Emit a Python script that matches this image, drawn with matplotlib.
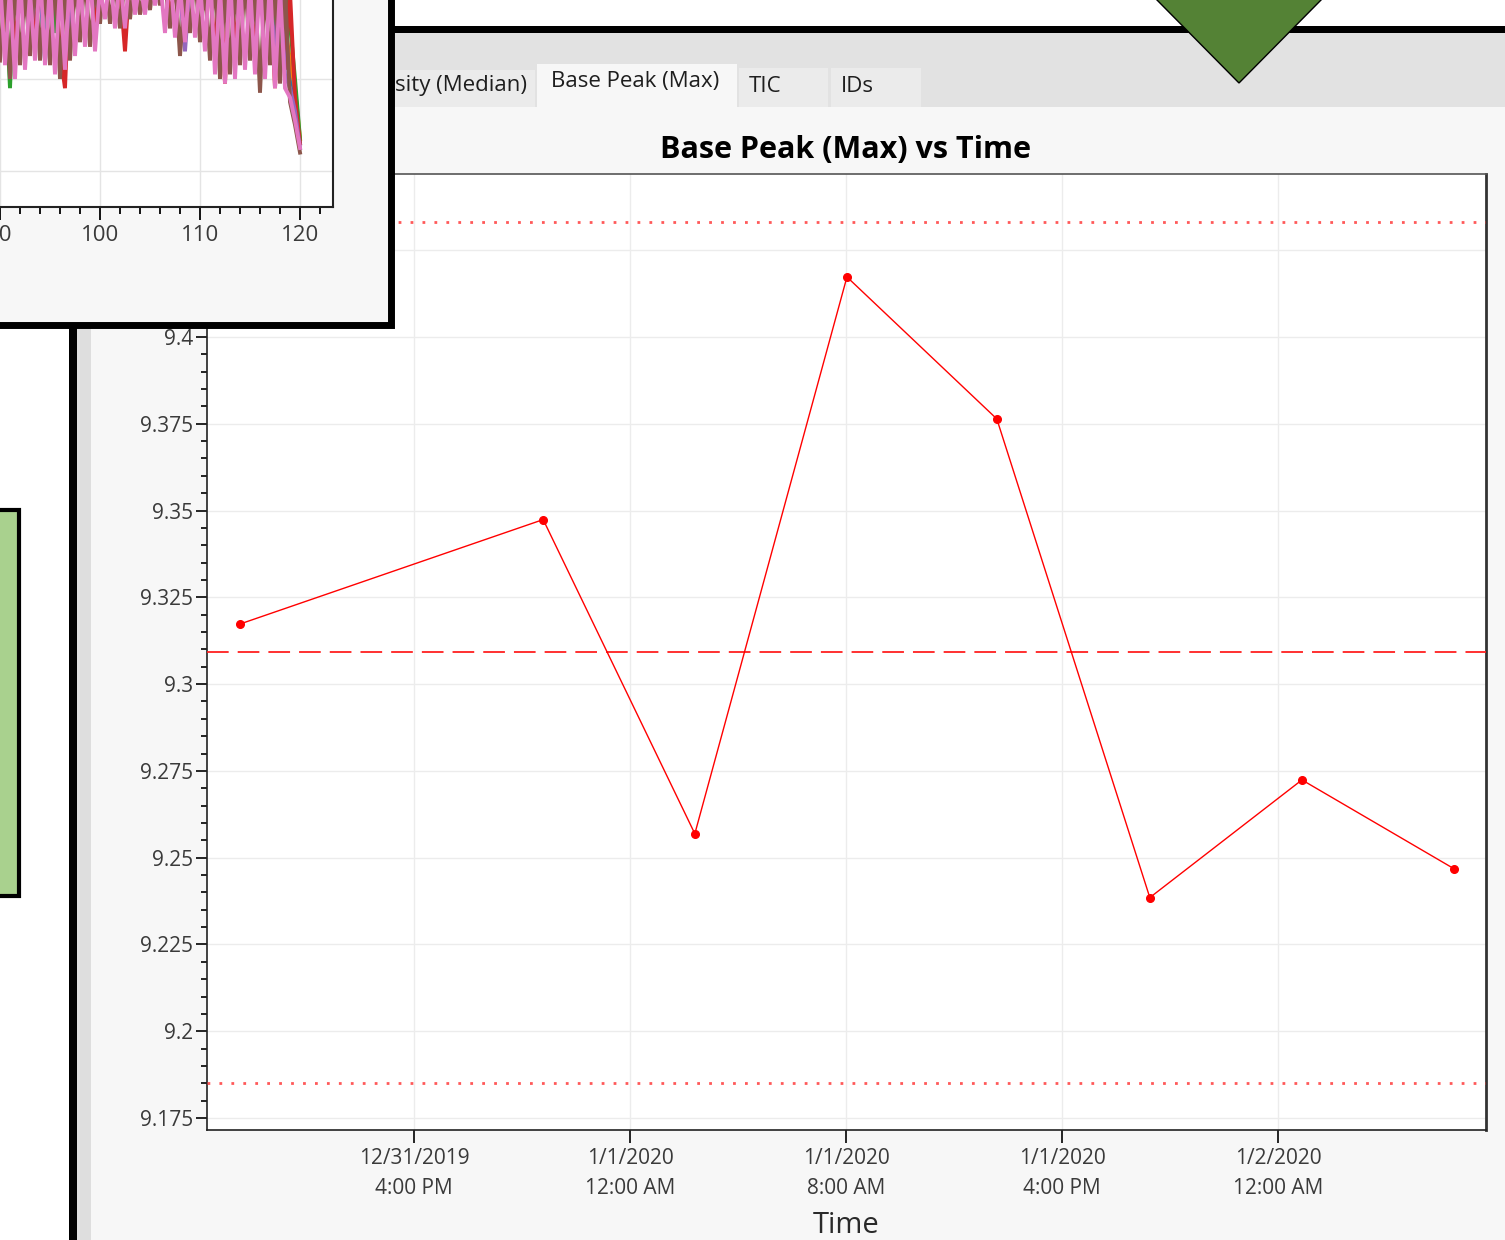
#!/usr/bin/env python3
import numpy as np
import matplotlib
matplotlib.use("Agg")
import matplotlib.pyplot as plt
import matplotlib.dates as mdates
from matplotlib.patches import Rectangle, Polygon
from matplotlib.ticker import MultipleLocator, FuncFormatter
from datetime import datetime

plt.rcParams['font.family'] = ['Open Sans', 'DejaVu Sans']

# Base peak (max) per run
run_times = ["2019-12-31 09:33", "2019-12-31 20:47", "2020-01-01 02:24", "2020-01-01 08:02",
             "2020-01-01 13:35", "2020-01-01 19:15", "2020-01-02 00:53", "2020-01-02 06:31"]
base_peak = [9.3173, 9.3474, 9.2569, 9.4173, 9.3764, 9.2385, 9.2724, 9.2468]

tab_labels = ["Intensity (Median)", "Base Peak (Max)", "TIC", "IDs"]

# Traces in the small chart behind, x = 90 .. 120 in steps of 0.5
trace_x = np.arange(90, 120.01, 0.5)
trace_blue = [83, 81, 84, 80, 82, 83, 81, 84, 80, 64, 82, 83, 81, 84, 80, 82, 83, 81, 84, 80,
              82, 83, 81, 84, 80, 82, 83, 81, 84, 80, 82, 83, 81, 84, 80, 82, 83, 81, 84, 80,
              82, 83, 81, 84, 80, 82, 83, 75, 84, 80, 82, 83, 81, 84, 80, 69, 68, 70, 62, 56, 46]
trace_orange = [82, 66, 84, 81, 83, 80, 82, 84, 81, 83, 80, 75, 76, 83, 81, 84, 80, 82, 83, 81,
                84, 80, 82, 83, 81, 84, 80, 82, 83, 81, 84, 80, 82, 83, 81, 84, 80, 82, 83, 81,
                84, 80, 82, 83, 81, 84, 80, 82, 83, 81, 84, 80, 82, 83, 81, 74, 70, 72, 64, 58, 47]
trace_green = [83, 80, 58, 84, 81, 79, 82, 80, 83, 81, 84, 70, 82, 80, 83, 81, 79, 84, 82, 80,
               83, 81, 84, 80, 82, 83, 80, 84, 81, 83, 80, 82, 84, 81, 83, 80, 79, 82, 84, 81,
               83, 80, 82, 84, 81, 83, 80, 82, 84, 81, 83, 80, 82, 84, 81, 71, 69, 80, 72, 60, 47]
trace_red = [80, 78, 84, 66, 81, 79, 83, 70, 80, 82, 78, 83, 66, 58, 84, 79, 82, 80, 83, 70,
             84, 81, 79, 83, 80, 66, 83, 82, 78, 84, 81, 83, 79, 82, 74, 80, 83, 72, 81, 79,
             83, 75, 80, 66, 82, 59, 84, 66, 80, 82, 79, 66, 83, 78, 81, 58, 80, 62, 79, 56, 46]
trace_purple = [81, 84, 79, 82, 80, 83, 66, 81, 84, 80, 82, 79, 83, 81, 68, 84, 80, 82, 79, 83,
                81, 84, 80, 82, 79, 83, 81, 84, 80, 82, 79, 83, 81, 84, 80, 82, 79, 66, 81, 84,
                80, 82, 79, 83, 81, 84, 80, 82, 79, 83, 81, 84, 80, 82, 79, 66, 81, 61, 58, 53, 45]
trace_brown = [64, 81, 60, 82, 63, 80, 65, 83, 64, 81, 63, 84, 60, 80, 64, 82, 68, 83, 67, 80,
               72, 84, 72, 81, 71, 82, 73, 83, 74, 80, 75, 84, 76, 81, 71, 82, 65, 80, 70, 83,
               68, 81, 64, 84, 60, 80, 61, 82, 63, 83, 64, 80, 57, 81, 63, 82, 59, 80, 55, 50, 44]
trace_pink = [82, 63, 80, 60, 83, 62, 79, 64, 84, 63, 81, 61, 80, 62, 83, 65, 82, 67, 84, 66,
              80, 73, 83, 71, 82, 71, 84, 74, 81, 74, 83, 76, 82, 70, 84, 69, 80, 68, 83, 69,
              81, 66, 84, 61, 80, 59, 83, 60, 82, 62, 81, 61, 83, 60, 82, 58, 80, 58, 56, 51, 45]
trace_ticks = [90, 100, 110, 120]

W, H = 1505, 1240


def frac(x0, y0, x1, y1):
    """pixel box (top-left origin) -> figure fraction rect"""
    return [x0 / W, 1 - y1 / H, (x1 - x0) / W, (y1 - y0) / H]


def overlay(z):
    a = fig.add_axes([0, 0, 1, 1], zorder=z)
    a.set_xlim(0, W)
    a.set_ylim(H, 0)
    a.axis('off')
    return a


fig = plt.figure(figsize=(W / 100, H / 100), dpi=100)
fig.patch.set_facecolor('white')

# ---- window chrome ----
bg = overlay(0)
bg.add_patch(Rectangle((77, 33), W - 77, 74, fc='#e2e2e2', ec='none'))
bg.add_patch(Rectangle((91, 107), W - 91, H - 107, fc='#f7f7f7', ec='none'))
bg.add_patch(Rectangle((77, 107), 14, H - 107, fc='#dedede', ec='none'))
bg.add_patch(Rectangle((69, 26), 8, H - 26, fc='black', ec='none'))
bg.add_patch(Rectangle((69, 26), W - 69, 7, fc='black', ec='none'))

tab_boxes = [(300, 70, 235, 37), (537, 64, 200, 43), (739, 68, 89, 39), (831, 68, 90, 39)]
for (tx, ty, tw, th), label, sel in zip(tab_boxes, tab_labels, [False, True, False, False]):
    bg.add_patch(Rectangle((tx, ty), tw, th, fc='#f7f7f7' if sel else '#ebebeb', ec='none'))
    if label == tab_labels[0]:
        bg.text(tx + tw - 8, 86, label, ha='right', va='center', fontsize=16, color='#1e1e1e')
    elif sel:
        bg.text(tx + 14, 82, label, ha='left', va='center', fontsize=16, color='#1e1e1e')
    else:
        bg.text(tx + 10, 86, label, ha='left', va='center', fontsize=16, color='#1e1e1e')

bg.add_patch(Rectangle((-10, 510), 29, 386, fc='#a9d18e', ec='black', lw=3))
bg.text(846, 150, "Base Peak (Max) vs Time", ha='center', va='center',
        fontsize=22, fontweight='bold', color='black')

# ---- main chart ----
ax = fig.add_axes(frac(207, 174, 1486, 1130), zorder=1)
ax.set_facecolor('white')
t = [datetime.strptime(s, "%Y-%m-%d %H:%M") for s in run_times]
vals = np.array(base_peak)
mean = vals.mean()
spread = 2 * vals.std()

ax.plot(t, vals, color='#ff0000', lw=1.0, marker='o', ms=5.5, zorder=4)
ax.axhline(mean, color='#ff2020', lw=1.3, ls=(0, (12, 5)), zorder=3)
ax.axhline(mean + spread, color='#ff3030', lw=2, ls=(0, (1, 3.3)), alpha=0.8, zorder=3)
ax.axhline(mean - spread, color='#ff3030', lw=2, ls=(0, (1, 3.3)), alpha=0.8, zorder=3)

ax.set_xlim(datetime(2019, 12, 31, 8, 20), datetime(2020, 1, 2, 7, 42))
ax.set_ylim(9.17154, 9.44696)
ax.xaxis.set_major_locator(mdates.HourLocator(byhour=[0, 8, 16]))


def fmt_time(v, pos):
    d = mdates.num2date(v)
    hr = d.hour % 12 or 12
    ampm = "AM" if d.hour < 12 else "PM"
    return f"{d.month}/{d.day}/{d.year}\n{hr}:{d.minute:02d} {ampm}"


ax.xaxis.set_major_formatter(FuncFormatter(fmt_time))
ax.yaxis.set_major_locator(MultipleLocator(0.025))
ax.yaxis.set_minor_locator(MultipleLocator(0.005))
ax.yaxis.set_major_formatter(FuncFormatter(lambda v, p: f"{v:.3f}".rstrip('0').rstrip('.')))
ax.grid(True, which='major', color='#ececec', lw=1)
ax.set_axisbelow(True)
ax.tick_params(axis='y', which='major', length=8, width=1.2, pad=2, labelsize=15, labelcolor='#3a3a3a')
ax.tick_params(axis='y', which='minor', length=4, width=1.2)
ax.tick_params(axis='x', which='major', length=9, width=1.2, pad=4, labelsize=15, labelcolor='#3a3a3a')
for lbl in ax.get_xticklabels():
    lbl.set_linespacing(1.55)
for side in ['left', 'bottom']:
    ax.spines[side].set_linewidth(1.2)
    ax.spines[side].set_color('#222222')
ax.spines['top'].set_color('#555555')
ax.spines['top'].set_linewidth(1.2)
ax.spines['right'].set_color('#333333')
ax.spines['right'].set_linewidth(2)
ax.set_xlabel("Time", fontsize=21, color='#2a2a2a', labelpad=9)

# ---- small chart window on top ----
ov = overlay(2)
ov.add_patch(Rectangle((-20, -20), 410.5, 344.5, fc='#f7f7f7', ec='black', lw=5))

ins = fig.add_axes(frac(-300, -50, 333, 207), zorder=3)
ins.set_facecolor('white')
traces = [trace_blue, trace_orange, trace_green, trace_red, trace_purple, trace_brown, trace_pink]
for i, tr in enumerate(traces):
    ins.plot(trace_x, tr, color=f"C{i}", lw=2.8, solid_joinstyle='miter')
ins.set_xlim(60, 123.3)
ins.set_ylim(32.17, 88.04)
ins.set_xticks(trace_ticks)
ins.xaxis.set_minor_locator(MultipleLocator(2))
ins.yaxis.set_major_locator(MultipleLocator(20))
ins.grid(True, which='major', color='#e4e4e4', lw=1)
ins.set_axisbelow(True)
ins.tick_params(axis='x', which='major', length=9, width=1.3, pad=4, labelsize=16, labelcolor='#3a3a3a')
ins.tick_params(axis='x', which='minor', length=5, width=1.3)
ins.tick_params(axis='y', left=False, labelleft=False)
for s in ins.spines.values():
    s.set_linewidth(1.5)
    s.set_color('#222222')

# ---- marker triangle ----
top = overlay(4)
top.add_patch(Polygon([(1155, -2), (1323, -2), (1239, 83)], closed=True,
                      fc='#548235', ec='black', lw=1))

fig.savefig("out.png", dpi=100)
